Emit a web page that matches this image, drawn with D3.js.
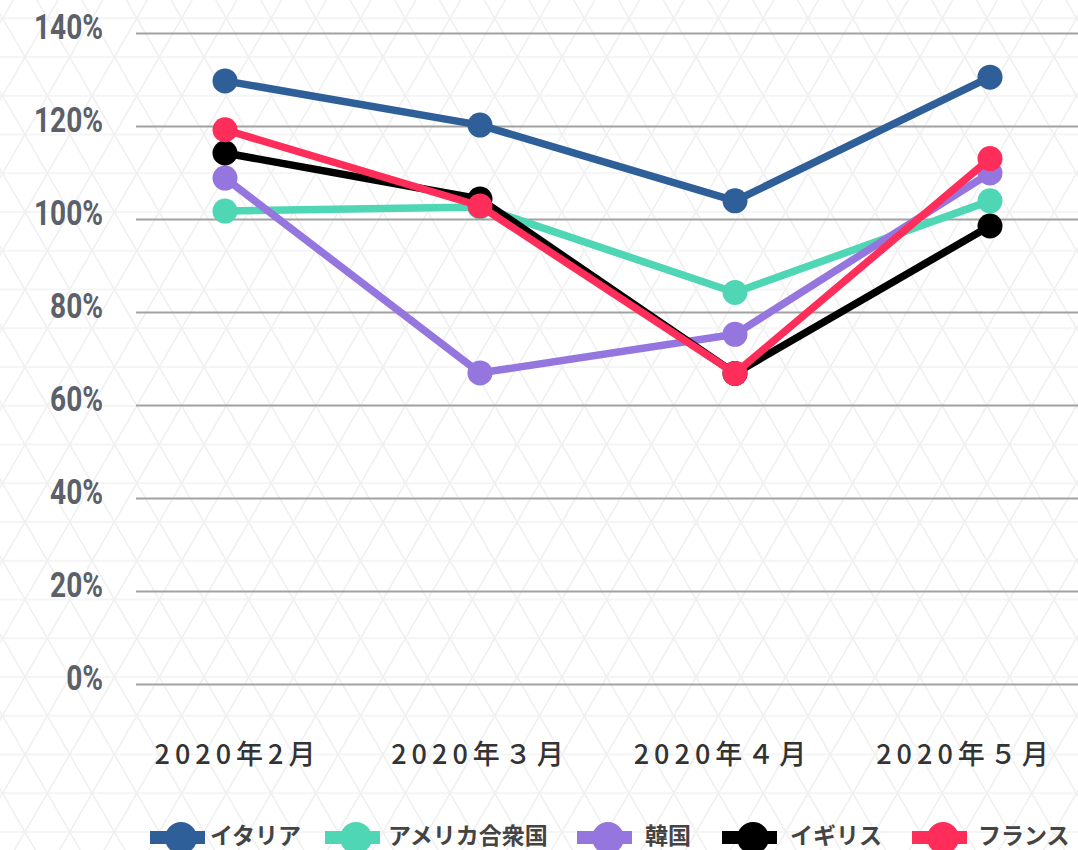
<!DOCTYPE html>
<html>
<head>
<meta charset="utf-8">
<script src="https://cdn.jsdelivr.net/npm/d3@7"></script>
<style>
  html, body { margin: 0; padding: 0; background: #fff; }
  svg { display: block; }
</style>
</head>
<body>
<svg id="chart" width="1078" height="850"></svg>
<script>
// ---- data ----
const months = ["2020年2月", "2020年３月", "2020年４月", "2020年５月"];
const seriesNames = ["イタリア", "アメリカ合衆国", "韓国", "イギリス", "フランス"];
const seriesColors = ["#2f5f98", "#4fd6b4", "#9476de", "#000000", "#fe2d59"];
const italy  = [129.7, 120.2, 103.9, 130.5];
const usa    = [101.7, 102.6, 84.2, 103.9];
const korea  = [108.8, 66.9, 75.2, 109.9];
const uk     = [114.2, 104.3, 66.8, 98.5];
const france = [119.2, 102.8, 66.8, 113.0];
const yTicks = [0, 20, 40, 60, 80, 100, 120, 140];

const seriesValues = [italy, usa, korea, uk, france];
const W = 1078, H = 850;
const svg = d3.select("#chart");

// ---- background lattice ----
const bgH = svg.append("g").attr("stroke", "#f5f5f5").attr("stroke-width", 2).attr("fill", "none");
const bgD = svg.append("g").attr("stroke", "#f0f0f0").attr("stroke-width", 1.6).attr("fill", "none");
const h = 38.75, s = 2 * h / Math.sqrt(3), y0 = 18.25, xo = 2.6;
for (let r = -1; r * h + y0 < H + h; r++) {
  const yy = y0 + r * h;
  bgH.append("line").attr("x1", 0).attr("x2", W).attr("y1", yy).attr("y2", yy);
}
const k3 = Math.sqrt(3);
for (let k = -30; k < 40; k++) {
  const c = xo + k * s;
  bgD.append("line").attr("x1", c + (0 - y0) / k3).attr("y1", 0).attr("x2", c + (H - y0) / k3).attr("y2", H);
  bgD.append("line").attr("x1", c - (0 - y0) / k3).attr("y1", 0).attr("x2", c - (H - y0) / k3).attr("y2", H);
}

// ---- scales ----
const y = d3.scaleLinear().domain([0, 140]).range([684, 33]);
const x = d3.scalePoint().domain(months).range([225, 990]);
const xLab = d3.scalePoint().domain(months).range([237, 964.5]);

// ---- y grid + labels ----
const yAxis = d3.axisLeft(y).tickValues(yTicks).tickSize(0).tickFormat(d => d + "%");
const gy = svg.append("g").attr("transform", "translate(136,0)").call(yAxis);
gy.select(".domain").remove();
gy.selectAll(".tick line").attr("x2", W - 136).attr("stroke", "#a2a2a2").attr("stroke-width", 2);
gy.selectAll(".tick text")
  .attr("x", 0).attr("dy", null).attr("y", 0)
  .attr("text-anchor", "end")
  .attr("dominant-baseline", "alphabetic")
  .attr("transform", "translate(-33,5.5) scale(0.78,1)")
  .style("font-family", "Roboto, 'Noto Sans', sans-serif")
  .style("font-weight", 700)
  .style("font-size", "36px")
  .attr("fill", "#5b6069");

// ---- x labels ----
const xAxis = d3.axisBottom(xLab).tickSize(0);
const gx = svg.append("g").attr("transform", "translate(0,684)").call(xAxis);
gx.select(".domain").remove();
gx.selectAll(".tick text")
  .attr("y", 80).attr("dy", null)
  .style("font-family", "'Noto Sans CJK JP', sans-serif")
  .style("font-weight", 500)
  .style("font-size", "27px")
  .style("letter-spacing", "5px")
  .attr("fill", "#333");

// ---- series ----
const line = d3.line().x((d, i) => x(months[i])).y(d => y(d));
seriesValues.forEach((vals, si) => {
  const g = svg.append("g");
  g.append("path").datum(vals).attr("d", line)
    .attr("fill", "none").attr("stroke", seriesColors[si])
    .attr("stroke-width", 7.5).attr("stroke-linejoin", "round");
  g.selectAll("circle").data(vals).join("circle")
    .attr("cx", (d, i) => x(months[i])).attr("cy", d => y(d))
    .attr("r", 12.5).attr("fill", seriesColors[si]);
});

// ---- legend ----
const legendItemX = [150, 325, 577, 722, 912];
const legendTextDx = [60, 63, 68, 68, 66];
const lg = svg.append("g");
seriesNames.forEach((name, si) => {
  const it = lg.append("g").attr("transform", `translate(${legendItemX[si]},0)`);
  it.append("rect").attr("x", 0).attr("y", 831).attr("width", 55).attr("height", 13).attr("fill", seriesColors[si]);
  it.append("circle").attr("cx", 31).attr("cy", 838).attr("r", 16).attr("fill", seriesColors[si]);
  it.append("text").attr("x", legendTextDx[si]).attr("y", 844).text(name)
    .style("font-family", "'Noto Sans CJK JP', sans-serif")
    .style("font-weight", 700)
    .style("font-size", "23px")
    .attr("fill", "#444");
});
</script>
</body>
</html>
